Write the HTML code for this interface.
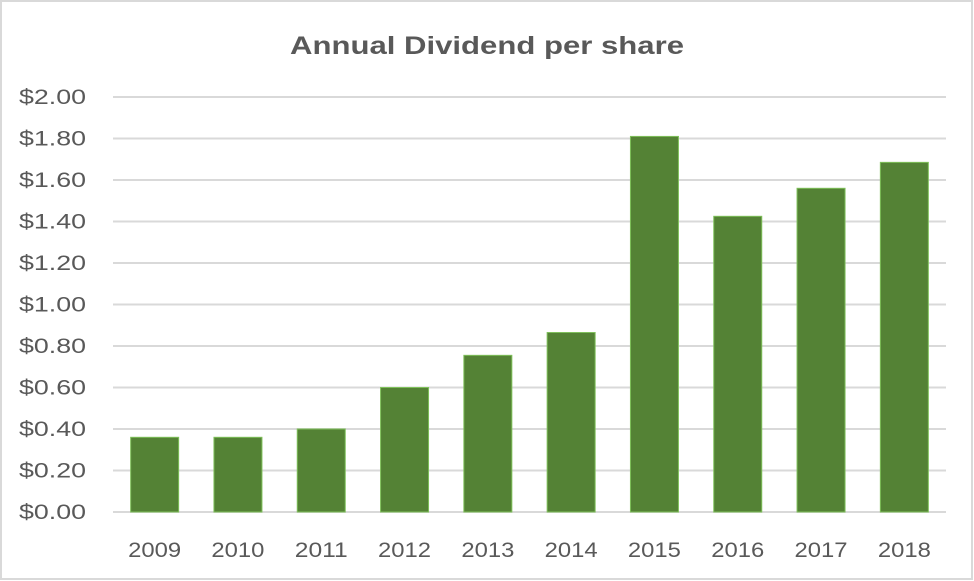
<!DOCTYPE html>
<html><head><meta charset="utf-8"><style>
body{margin:0;background:#fff;}
svg{display:block;font-family:"Liberation Sans",sans-serif;}
</style></head><body>
<svg id="chart" width="974" height="581">
<rect x="1" y="1" width="971" height="578" fill="#fff" stroke="#d9d9d9" stroke-width="2"/>
<text x="487" y="54" text-anchor="middle" font-size="25" font-weight="bold" fill="#595959" textLength="394" lengthAdjust="spacingAndGlyphs">Annual Dividend per share</text>
<g id="grid"></g><g id="bars"></g><g id="ylabels"></g><g id="xlabels"></g>
</svg>
<script>
const categories=["2009","2010","2011","2012","2013","2014","2015","2016","2017","2018"];
const values=[0.36,0.36,0.40,0.60,0.755,0.865,1.81,1.425,1.56,1.685];
const ticks=[0,0.2,0.4,0.6,0.8,1.0,1.2,1.4,1.6,1.8,2.0];
const NS="http://www.w3.org/2000/svg";
const x0=113,x1=946,y0=512,yTop=97,vmax=2;
const y=v=>y0-(v/vmax)*(y0-yTop);
const step=(x1-x0)/categories.length;
const xc=i=>x0+step*(i+0.5);
function mk(t,a,p){const e=document.createElementNS(NS,t);for(const k in a)e.setAttribute(k,a[k]);document.getElementById(p).appendChild(e);return e;}
ticks.forEach(t=>{
 const l=mk('line',{x1:x0,x2:x1,y1:y(t),y2:y(t),stroke:'#d9d9d9','stroke-width':2},'grid');
 
 
 const tx=mk('text',{x:86,y:y(t)+7,'text-anchor':'end','font-size':21,fill:'#595959',textLength:67,lengthAdjust:'spacingAndGlyphs'},'ylabels');
 tx.textContent='$'+t.toFixed(2);
 
 
});
categories.forEach((c,i)=>{
 const bw=48;
 const r=mk('rect',{x:xc(i)-bw/2,y:y(values[i]),width:bw,height:y0-y(values[i]),fill:'#548235',stroke:'#7fc05a','stroke-width':1},'bars');
 
 
 const tx=mk('text',{x:xc(i),y:557,'text-anchor':'middle','font-size':21,fill:'#595959',textLength:53,lengthAdjust:'spacingAndGlyphs'},'xlabels');
 tx.textContent=c;
 
 
});
</script>
</body></html>
